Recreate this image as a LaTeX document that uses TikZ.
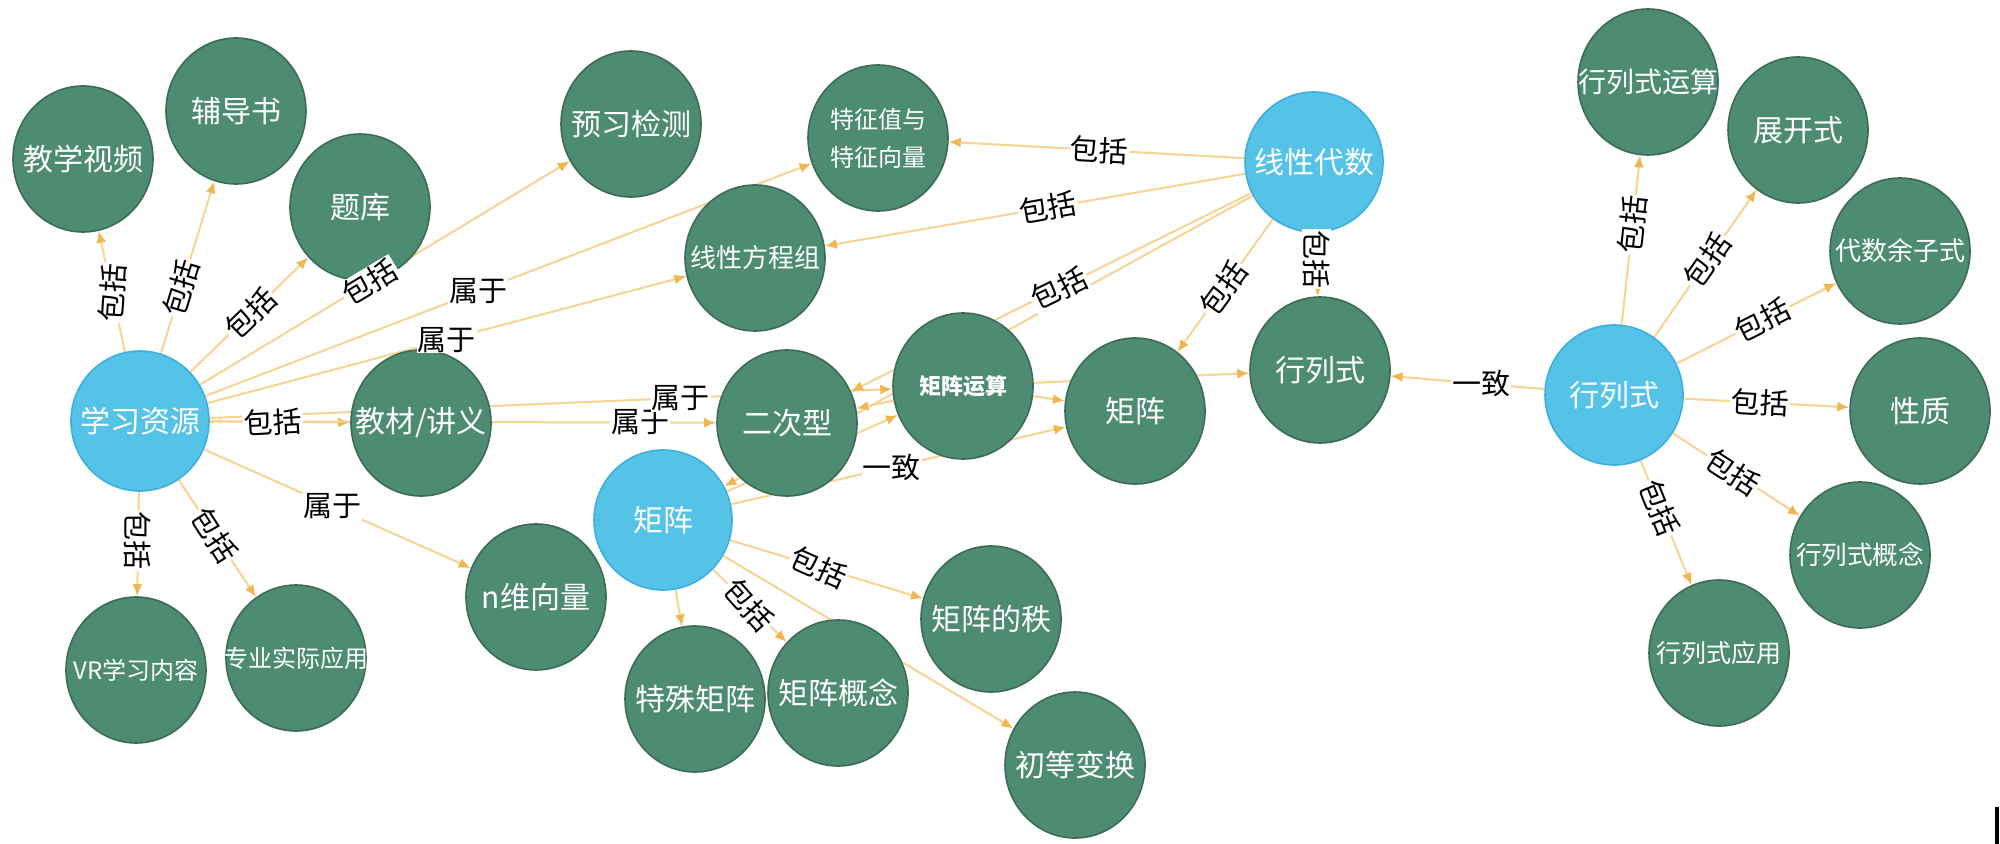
\documentclass[tikz,border=0pt]{standalone}
\usepackage{fontspec}
\setmainfont{Noto Sans CJK SC}
\usetikzlibrary{arrows.meta,backgrounds,shapes.geometric}
\pgfdeclarelayer{front}
\pgfsetlayers{background,main,front}
\definecolor{gfill}{HTML}{4E8B73}
\definecolor{gline}{HTML}{3C6B58}
\definecolor{bfill}{HTML}{55C3E8}
\definecolor{bline}{HTML}{3DB0DC}
\definecolor{ecol}{HTML}{F7D394}
\definecolor{acol}{HTML}{F1B552}
\newcommand{\ctext}[1]{\makebox[0pt][c]{#1}}
\tikzset{
  gnode/.style={ellipse, minimum width=70pt, minimum height=73pt, inner sep=0pt,
    fill=gfill, draw=gline, line width=0.8pt, text=white, font=\fontsize{15pt}{17pt}\selectfont},
  bnode/.style={gnode, fill=bfill, draw=bline, minimum width=69pt, minimum height=70pt},
  edge/.style={draw=ecol, line width=1pt, -{Latex[length=6pt,width=5pt,color=acol]}},
  lbl/.style={fill=white, inner sep=0.5pt, text=black, font=\fontsize{14.5pt}{16pt}\selectfont},
  fs/.style={font=\fontsize{#1pt}{#1pt}\selectfont}
}
\begin{document}
\begin{tikzpicture}[x=0.5pt,y=-0.5pt]
\useasboundingbox (0,0) rectangle (2000,844);
% nodes
\node[bnode] (A) at (140,421) {\ctext{学习资源}};
\node[gnode] (TJ) at (83,159) {\ctext{教学视频}};
\node[gnode] (FD) at (236,111) {\ctext{辅导书}};
\node[gnode] (TK) at (360,207) {\ctext{题库}};
\node[gnode] (YX) at (631,124) {\ctext{预习检测}};
\node[gnode, fs=12] (TZ) at (878,138) {\ctext{\shortstack[c]{特征值与\\[5pt]特征向量}}};
\node[gnode, fs=13] (XF) at (755,258) {\ctext{线性方程组}};
\node[bnode] (XD) at (1314,162) {\ctext{线性代数}};
\node[gnode] (JC) at (421,423) {\ctext{教材/讲义}};
\node[gnode] (EC) at (787,423) {\ctext{二次型}};
\node[gnode, font=\fontsize{11pt}{12pt}\selectfont\bfseries] (JY) at (963,386) {\ctext{矩阵运算}};
\node[gnode] (JZg) at (1135,411) {\ctext{矩阵}};
\node[gnode] (HLg) at (1320,370) {\ctext{行列式}};
\node[bnode] (HLb) at (1614,395) {\ctext{行列式}};
\node[bnode] (MB) at (663,520) {\ctext{矩阵}};
\node[gnode] (NW) at (536,597) {\ctext{n维向量}};
\node[gnode, fs=12] (VR) at (136,670) {\ctext{VR学习内容}};
\node[gnode, fs=12] (ZY) at (296,658) {\ctext{专业实际应用}};
\node[gnode] (TS) at (695,699) {\ctext{特殊矩阵}};
\node[gnode] (GN) at (838,693) {\ctext{矩阵概念}};
\node[gnode] (ZZ) at (991,619) {\ctext{矩阵的秩}};
\node[gnode] (CD) at (1075,765) {\ctext{初等变换}};
\node[gnode, fs=14] (YS) at (1648,82) {\ctext{行列式运算}};
\node[gnode] (ZK) at (1798,130) {\ctext{展开式}};
\node[gnode, fs=13] (DS) at (1900,251) {\ctext{代数余子式}};
\node[gnode] (XZ) at (1920,411) {\ctext{性质}};
\node[gnode, fs=12.8] (GNb) at (1860,555) {\ctext{行列式概念}};
\node[gnode, fs=12.5] (YY) at (1719,653) {\ctext{行列式应用}};
\fill[black] (1995,807) rectangle (1999,844);
% connectors (behind the nodes)
\begin{scope}[on background layer]
\fill[white] (0,0) rectangle (2000,844);
\foreach \s/\t in {A/TJ, A/FD, A/TK, A/YX, A/TZ, A/XF, A/JC, A/EC, A/JY, A/NW, A/VR, A/ZY,
  XD/TZ, XD/XF, XD/EC, XD/MB, XD/JZg, XD/HLg,
  MB/JY, JY/EC, JY/JZg, JY/HLg, MB/JZg, HLb/HLg,
  MB/TS, MB/GN, MB/ZZ, MB/CD,
  HLb/YS, HLb/ZK, HLb/DS, HLb/XZ, HLb/GNb, HLb/YY}
  \draw[edge] (\s) -- (\t);
\end{scope}
% connector labels (in front)
\begin{pgfonlayer}{front}
\path (A) -- (TJ) node[lbl,pos=.49,rotate=86]{包括};
\path (A) -- (FD) node[lbl,pos=.38,rotate=73]{包括};
\path (A) -- (TK) node[lbl,pos=.51,rotate=44]{包括};
\path (A) -- (YX) node[lbl,pos=.46,rotate=31]{包括};
\path (A) -- (TZ) node[lbl,pos=.45]{属于};
\path (A) -- (XF) node[lbl,pos=.50]{属于};
\path (A) -- (JC) node[lbl,pos=.45,rotate=3]{包括};
\path (A) -- (EC) node[lbl,pos=.85]{属于};
\path (A) -- (JY) node[lbl,pos=.69]{属于};
\path (A) -- (NW) node[lbl,pos=.48]{属于};
\path (A) -- (VR) node[lbl,pos=.47,rotate=-90]{包括};
\path (A) -- (ZY) node[lbl,pos=.47,rotate=-57]{包括};
\path (XD) -- (TZ) node[lbl,pos=.49,rotate=-3]{包括};
\path (XD) -- (XF) node[lbl,pos=.47,rotate=10]{包括};
\path (XD) -- (EC) node[lbl,pos=.48,rotate=26]{包括};
\path (XD) -- (JZg) node[lbl,pos=.52,rotate=54]{包括};
\path (XD) -- (HLg) node[lbl,pos=.42,rotate=-90]{包括};
\path (MB) -- (JZg) node[lbl,pos=.48]{一致};
\path (HLb) -- (HLg) node[lbl,pos=.41]{一致};
\path (MB) -- (GN) node[lbl,pos=.49,rotate=-48]{包括};
\path (MB) -- (ZZ) node[lbl,pos=.46,rotate=-24]{包括};
\path (HLb) -- (YS) node[lbl,pos=.59,rotate=84]{包括};
\path (HLb) -- (ZK) node[lbl,pos=.52,rotate=55]{包括};
\path (HLb) -- (DS) node[lbl,pos=.54,rotate=27]{包括};
\path (HLb) -- (XZ) node[lbl,pos=.46,rotate=-3]{包括};
\path (HLb) -- (GNb) node[lbl,pos=.47,rotate=-33]{包括};
\path (HLb) -- (YY) node[lbl,pos=.38,rotate=-68]{包括};
\end{pgfonlayer}
\end{tikzpicture}
\end{document}
